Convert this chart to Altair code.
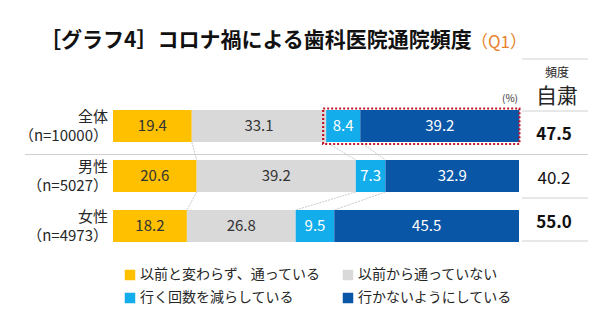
import altair as alt
import pandas as pd

# ---- data ----
groups = ["全体", "男性", "女性"]
ns = ["n=10000", "n=5027", "n=4973"]
categories = ["以前と変わらず、通っている", "以前から通っていない", "行く回数を減らしている", "行かないようにしている"]
same = [19.4, 20.6, 18.2]
never = [33.1, 39.2, 26.8]
reduced = [8.4, 7.3, 9.5]
notgoing = [39.2, 32.9, 45.5]
refrain = [47.5, 40.2, 55.0]
colors = ["#FFC000", "#D9D9D9", "#14ADEB", "#0A56A6"]

FONT = "Noto Sans CJK JP"

# layout (plot area = bar region)
L, T, W, H = 113, 126, 406, 100
def px(x):
    return x - L
def py(y):
    return y - T

series = [same, never, reduced, notgoing]
rows = []
ends = []
for i, g in enumerate(groups):
    cum = 0.0
    e = []
    for k, cat in enumerate(categories):
        v = series[k][i]
        rows.append(dict(group=g, row=i, cat=cat, order=k, value=v,
                         start=cum, end=cum + v, mid=cum + v / 2))
        cum += v
        e.append(cum)
    ends.append(e)
seg = pd.DataFrame(rows)

conn = []
for i in range(len(groups) - 1):
    for k in range(3):
        conn.append(dict(x=ends[i][k], x2=ends[i + 1][k], row=i))
conn = pd.DataFrame(conn)

labels = pd.DataFrame(dict(group=groups, n=ns, row=list(range(len(groups))), v=refrain))

xs = alt.Scale(domain=[0, 100], nice=False, zero=False)
ys = alt.Scale(domain=[0, 2], reverse=True, nice=False, zero=False)

base = alt.Chart(seg)

bars = base.mark_bar().transform_calculate(
    y0="datum.row - 0.32", y1="datum.row + 0.32"
).encode(
    x=alt.X("start:Q", scale=xs, axis=None),
    x2="end:Q",
    y=alt.Y("y0:Q", scale=ys, axis=None),
    y2="y1:Q",
    color=alt.Color("cat:N", scale=alt.Scale(domain=categories, range=colors),
                    legend=alt.Legend(title=None, orient="none", legendX=px(123), legendY=py(268),
                                      direction="horizontal", columns=2,
                                      symbolType="square", symbolSize=110,
                                      symbolStrokeWidth=0, labelFont=FONT, labelFontSize=14,
                                      labelColor="#262626", labelLimit=400, labelOffset=3,
                                      columnPadding=19, rowPadding=9, padding=0)),
)

vals = base.mark_text(font=FONT, fontSize=15, baseline="middle").encode(
    x=alt.X("mid:Q", scale=xs, axis=None),
    y=alt.Y("row:Q", scale=ys, axis=None),
    text=alt.Text("value:Q", format=".1f"),
    color=alt.condition(alt.FieldOneOfPredicate(field="cat", oneOf=categories[:2]),
                        alt.value("#333333"), alt.value("white")),
)

connectors = alt.Chart(conn).mark_rule(color="#BDBDBD", strokeWidth=0.8, strokeDash=[2, 1]).transform_calculate(
    ya="datum.row + 0.32", yb="datum.row + 0.68"
).encode(
    x=alt.X("x:Q", scale=xs, axis=None), x2="x2:Q",
    y=alt.Y("ya:Q", scale=ys, axis=None), y2="yb:Q",
)

left_top = alt.Chart(labels).mark_text(font=FONT, fontSize=15, align="right", baseline="middle",
                                       dy=-9.5, color="#262626").encode(
    x=alt.value(px(108)),
    y=alt.Y("row:Q", scale=ys, axis=None),
    text="group:N",
)
left_bot = alt.Chart(labels).mark_text(font=FONT, fontSize=15, align="right", baseline="middle",
                                       dy=9.5, color="#262626").transform_calculate(
    lab="'（' + datum.n + '）'"
).encode(
    x=alt.value(px(108)),
    y=alt.Y("row:Q", scale=ys, axis=None),
    text="lab:N",
)

def right_col(test, weight):
    return alt.Chart(labels).transform_filter(test).transform_calculate(
        yy="datum.row * 0.88 + 0.18"
    ).mark_text(
        font=FONT, fontSize=17, align="center", baseline="middle",
        color="#111111", fontWeight=weight
    ).encode(
        x=alt.value(px(554)),
        y=alt.Y("yy:Q", scale=ys, axis=None),
        text=alt.Text("v:Q", format=".1f"),
    )

right_b = right_col("datum.group != '男性'", "bold")
right_n = right_col("datum.group == '男性'", "normal")

# table lines (right column) and separator
tl = pd.DataFrame(dict(y=[-1.34, -0.3, 1.44, 2.3]))
tlines = alt.Chart(tl).mark_rule(color="#D0D0D0", strokeWidth=1).encode(
    x=alt.value(px(522)), x2=alt.value(px(588)), y=alt.Y("y:Q", scale=ys, axis=None)
)
sep = alt.Chart(pd.DataFrame(dict(y=[0.57]))).mark_rule(color="#D0D0D0", strokeWidth=1).encode(
    x=alt.value(px(25)), x2=alt.value(px(588)), y=alt.Y("y:Q", scale=ys, axis=None)
)

# dotted highlight box around first row's blue segments
box_df = seg[(seg.row == 0) & (seg.order >= 2)]
box_df = pd.DataFrame(dict(s=[box_df.start.min()], e=[box_df.end.max()], ya=[-0.35], yb=[0.36]))
box = alt.Chart(box_df).mark_rect(fillOpacity=0, stroke="#C0142B", strokeWidth=2.2,
                                  strokeDash=[2, 2], xOffset=-3).encode(
    x=alt.X("s:Q", scale=xs, axis=None), x2="e:Q",
    y=alt.Y("ya:Q", scale=ys, axis=None), y2="yb:Q",
)

pct = alt.Chart(pd.DataFrame(dict(x=[100], y=[-0.55], t=["(%)"]))).mark_text(
    font=FONT, fontSize=10, align="right", baseline="middle", color="#333333", dx=-1
).encode(x=alt.X("x:Q", scale=xs, axis=None), y=alt.Y("y:Q", scale=ys, axis=None), text="t:N")

hdr1 = alt.Chart(pd.DataFrame({"t": ["頻度"]})).mark_text(
    font=FONT, fontSize=12, align="center", baseline="middle", color="#262626"
).encode(x=alt.value(px(557)), y=alt.value(py(73)), text="t:N")
hdr2 = alt.Chart(pd.DataFrame({"t": ["自粛"]})).mark_text(
    font=FONT, fontSize=21, align="center", baseline="middle", color="#262626"
).encode(x=alt.value(px(557)), y=alt.value(py(97)), text="t:N")

title1 = alt.Chart(pd.DataFrame({"t": ["［グラフ4］コロナ禍による歯科医院通院頻度"]})).mark_text(
    font=FONT, fontSize=21, fontWeight="bold", align="left", baseline="middle", color="#111111"
).encode(x=alt.value(px(40)), y=alt.value(py(41)), text="t:N")
title2 = alt.Chart(pd.DataFrame({"t": ["（Q1）"]})).mark_text(
    font=FONT, fontSize=17, align="left", baseline="middle", color="#E8822A"
).encode(x=alt.value(px(471)), y=alt.value(py(43)), text="t:N")

chart = alt.layer(
    sep, tlines, connectors, bars, box, vals, left_top, left_bot, right_b, right_n,
    pct, hdr1, hdr2, title1, title2
).properties(
    width=W, height=H, autosize=alt.AutoSizeParams(type="none"),
    padding={"left": L, "top": T, "right": 615 - L - W, "bottom": 326 - T - H},
    background="white",
).configure_view(strokeWidth=0)

chart.save("out.html", embed_options={"renderer": "svg", "actions": False})
